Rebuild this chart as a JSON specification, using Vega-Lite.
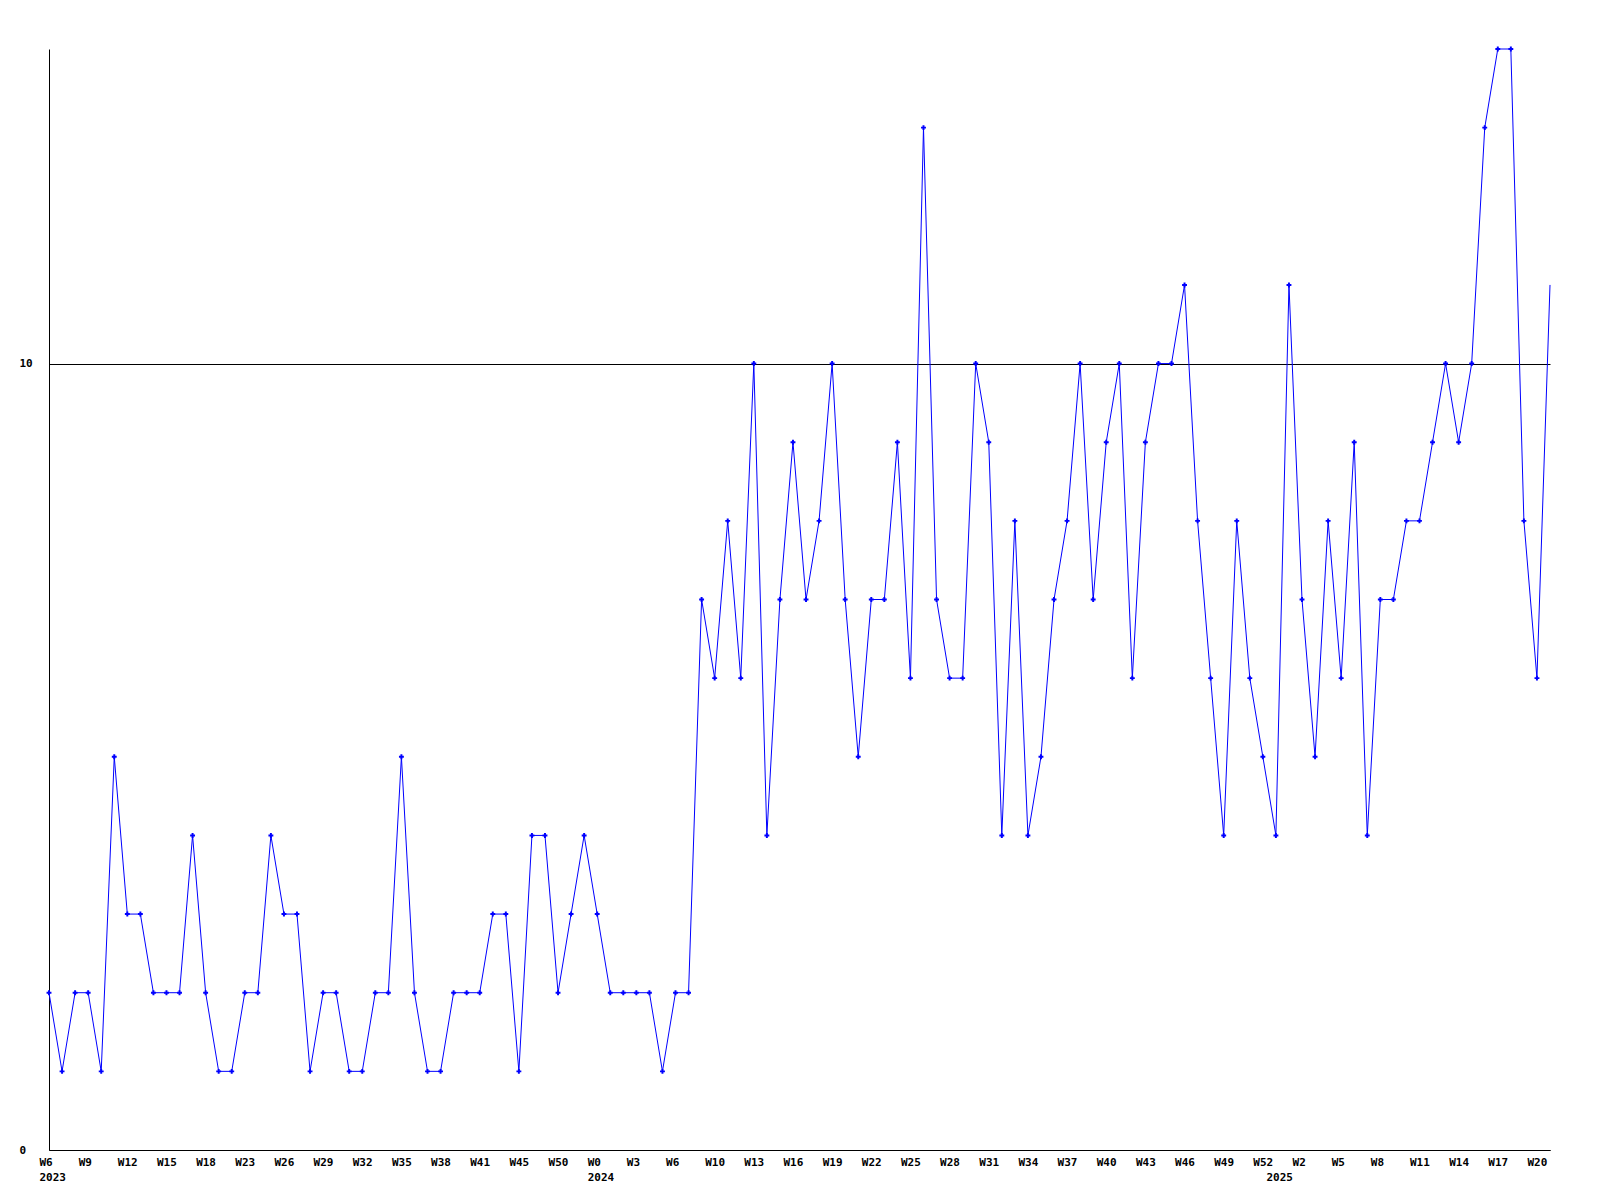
{
  "$schema": "https://vega.github.io/schema/vega-lite/v6.json",
  "width": 1501,
  "height": 1101,
  "autosize": {"type": "none"},
  "padding": {"left": 49, "top": 49, "right": 49, "bottom": 50},
  "background": "white",
  "config": {
    "view": {"stroke": null},
    "axis": {
      "labelFont": "DejaVu Sans Mono",
      "labelFontWeight": "bold",
      "labelFontSize": 11,
      "labelColor": "black",
      "domainColor": "black",
      "domainWidth": 1,
      "ticks": false,
      "tickSize": 0,
      "title": null
    }
  },
  "data": {
    "values": [
      {"i": 0, "v": 2}, {"i": 1, "v": 1}, {"i": 2, "v": 2}, {"i": 3, "v": 2}, {"i": 4, "v": 1},
      {"i": 5, "v": 5}, {"i": 6, "v": 3}, {"i": 7, "v": 3}, {"i": 8, "v": 2}, {"i": 9, "v": 2},
      {"i": 10, "v": 2}, {"i": 11, "v": 4}, {"i": 12, "v": 2}, {"i": 13, "v": 1}, {"i": 14, "v": 1},
      {"i": 15, "v": 2}, {"i": 16, "v": 2}, {"i": 17, "v": 4}, {"i": 18, "v": 3}, {"i": 19, "v": 3},
      {"i": 20, "v": 1}, {"i": 21, "v": 2}, {"i": 22, "v": 2}, {"i": 23, "v": 1}, {"i": 24, "v": 1},
      {"i": 25, "v": 2}, {"i": 26, "v": 2}, {"i": 27, "v": 5}, {"i": 28, "v": 2}, {"i": 29, "v": 1},
      {"i": 30, "v": 1}, {"i": 31, "v": 2}, {"i": 32, "v": 2}, {"i": 33, "v": 2}, {"i": 34, "v": 3},
      {"i": 35, "v": 3}, {"i": 36, "v": 1}, {"i": 37, "v": 4}, {"i": 38, "v": 4}, {"i": 39, "v": 2},
      {"i": 40, "v": 3}, {"i": 41, "v": 4}, {"i": 42, "v": 3}, {"i": 43, "v": 2}, {"i": 44, "v": 2},
      {"i": 45, "v": 2}, {"i": 46, "v": 2}, {"i": 47, "v": 1}, {"i": 48, "v": 2}, {"i": 49, "v": 2},
      {"i": 50, "v": 7}, {"i": 51, "v": 6}, {"i": 52, "v": 8}, {"i": 53, "v": 6}, {"i": 54, "v": 10},
      {"i": 55, "v": 4}, {"i": 56, "v": 7}, {"i": 57, "v": 9}, {"i": 58, "v": 7}, {"i": 59, "v": 8},
      {"i": 60, "v": 10}, {"i": 61, "v": 7}, {"i": 62, "v": 5}, {"i": 63, "v": 7}, {"i": 64, "v": 7},
      {"i": 65, "v": 9}, {"i": 66, "v": 6}, {"i": 67, "v": 13}, {"i": 68, "v": 7}, {"i": 69, "v": 6},
      {"i": 70, "v": 6}, {"i": 71, "v": 10}, {"i": 72, "v": 9}, {"i": 73, "v": 4}, {"i": 74, "v": 8},
      {"i": 75, "v": 4}, {"i": 76, "v": 5}, {"i": 77, "v": 7}, {"i": 78, "v": 8}, {"i": 79, "v": 10},
      {"i": 80, "v": 7}, {"i": 81, "v": 9}, {"i": 82, "v": 10}, {"i": 83, "v": 6}, {"i": 84, "v": 9},
      {"i": 85, "v": 10}, {"i": 86, "v": 10}, {"i": 87, "v": 11}, {"i": 88, "v": 8}, {"i": 89, "v": 6},
      {"i": 90, "v": 4}, {"i": 91, "v": 8}, {"i": 92, "v": 6}, {"i": 93, "v": 5}, {"i": 94, "v": 4},
      {"i": 95, "v": 11}, {"i": 96, "v": 7}, {"i": 97, "v": 5}, {"i": 98, "v": 8}, {"i": 99, "v": 6},
      {"i": 100, "v": 9}, {"i": 101, "v": 4}, {"i": 102, "v": 7}, {"i": 103, "v": 7}, {"i": 104, "v": 8},
      {"i": 105, "v": 8}, {"i": 106, "v": 9}, {"i": 107, "v": 10}, {"i": 108, "v": 9}, {"i": 109, "v": 10},
      {"i": 110, "v": 13}, {"i": 111, "v": 14}, {"i": 112, "v": 14}, {"i": 113, "v": 8}, {"i": 114, "v": 6},
      {"i": 115, "v": 11}
    ]
  },
  "encoding": {
    "x": {
      "field": "i",
      "type": "quantitative",
      "scale": {"domain": [0, 115], "nice": false, "zero": false},
      "axis": {
        "values": [0, 3, 6, 9, 12, 15, 18, 21, 24, 27, 30, 33, 36, 39, 42, 45, 48, 51, 54, 57, 60, 63, 66, 69, 72, 75, 78, 81, 84, 87, 90, 93, 94, 96, 99, 102, 105, 108, 111, 114],
        "labelExpr": "datum.value == 94 ? [' ','2025'] : [['W6','2023'],'W9','W12','W15','W18','W23','W26','W29','W32','W35','W38','W41','W45','W50',['W0','2024'],'W3','W6','W10','W13','W16','W19','W22','W25','W28','W31','W34','W37','W40','W43','W46','W49','W52','W2','W5','W8','W11','W14','W17','W20'][round(datum.value/3)]",
        "labelAlign": "left",
        "labelOffset": -10,
        "labelBaseline": "top",
        "labelPadding": 6,
        "labelLineHeight": 15,
        "labelOverlap": false,
        "labelBound": false,
        "labelFlush": false,
        "grid": false
      }
    },
    "y": {
      "field": "v",
      "type": "quantitative",
      "scale": {"domain": [0, 14], "nice": false},
      "axis": {
        "values": [0, 10],
        "labelAlign": "left",
        "labelBaseline": "middle",
        "labelPadding": 30,
        "grid": true,
        "gridColor": "black",
        "gridWidth": 1,
        "gridOpacity": 1,
        "labelOverlap": false,
        "labelBound": false,
        "labelFlush": false
      }
    }
  },
  "layer": [
    {"mark": {"type": "line", "color": "#0000ff", "strokeWidth": 1}},
    {
      "transform": [{"filter": "datum.i < 115"}],
      "mark": {"type": "point", "shape": "cross", "filled": true, "size": 24, "color": "#0000ff", "opacity": 1}
    }
  ]
}
